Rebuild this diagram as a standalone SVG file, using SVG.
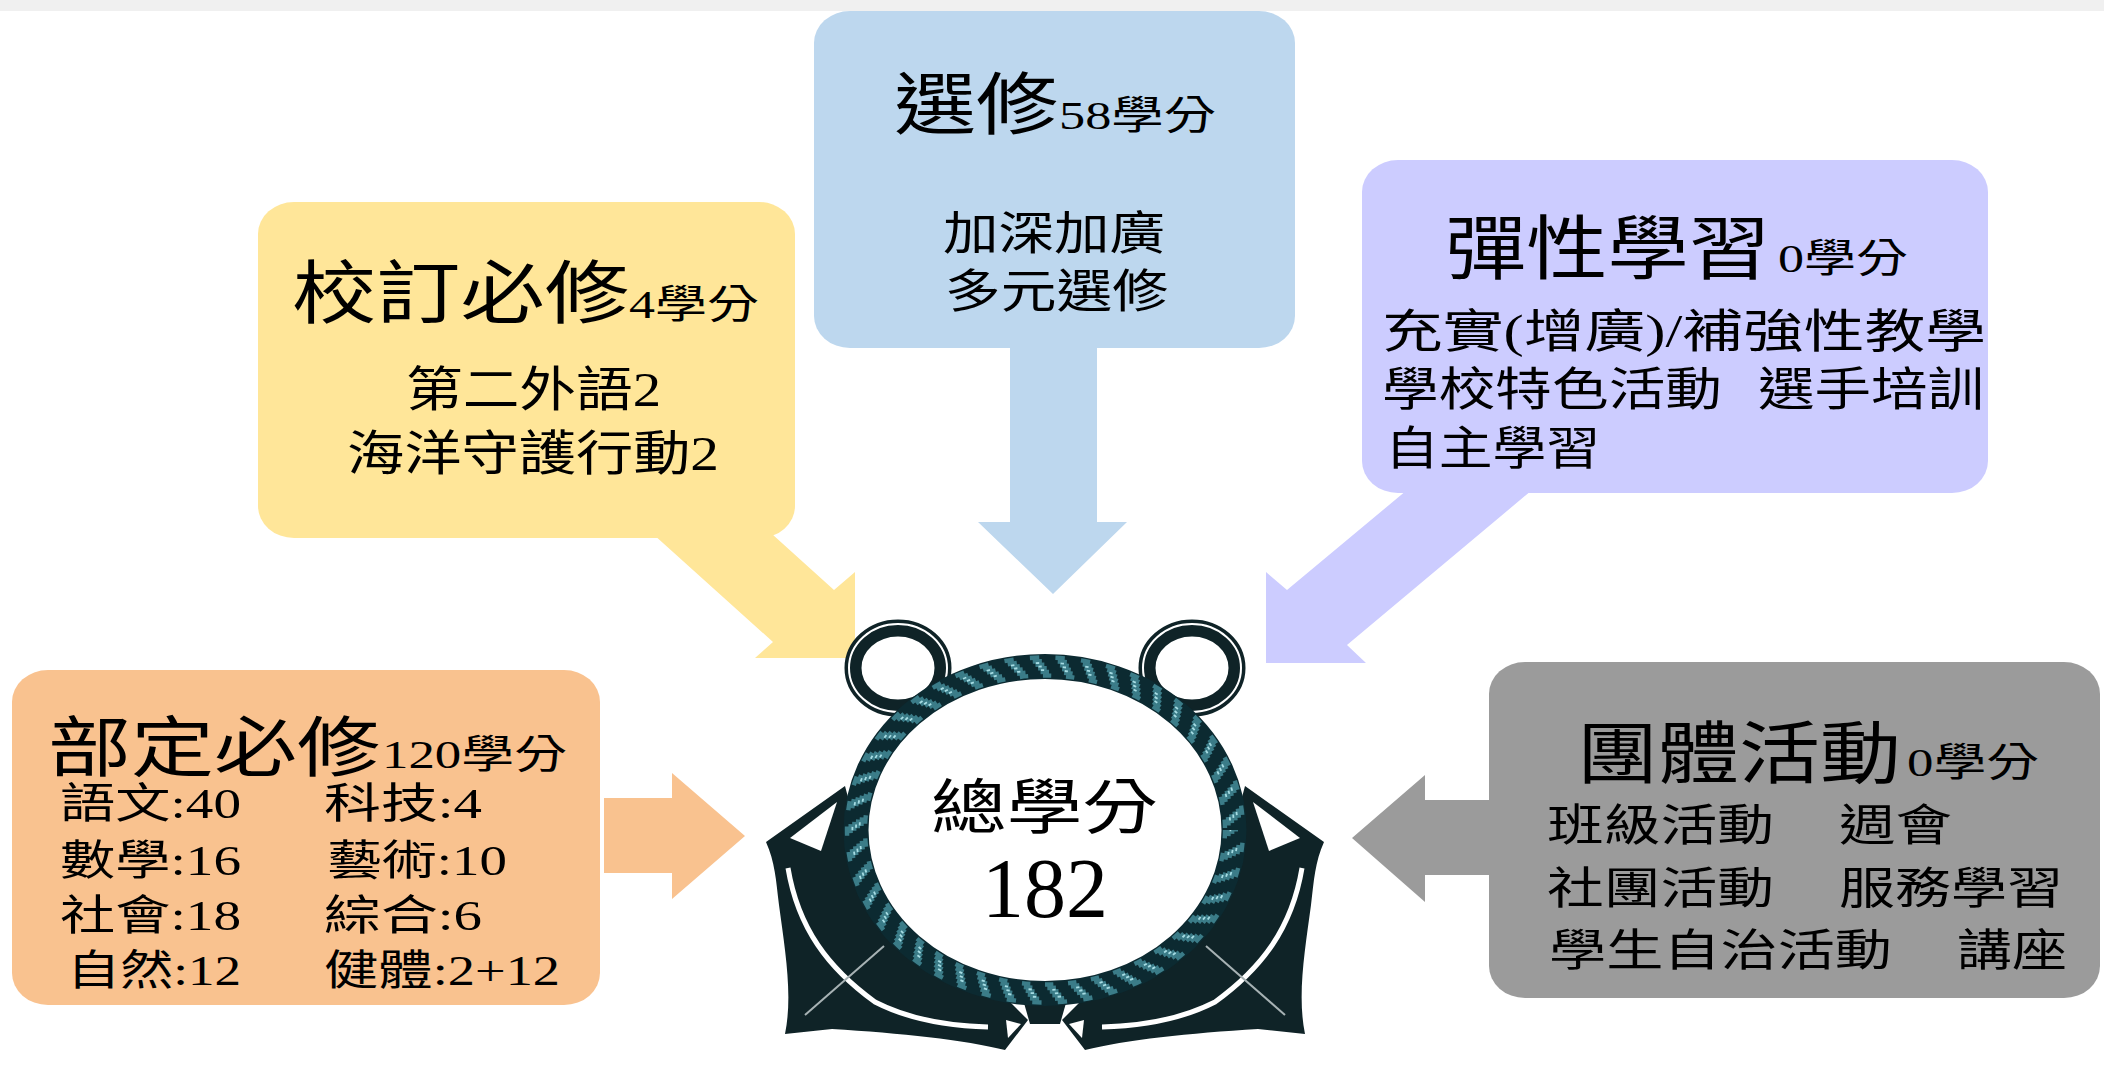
<svg xmlns="http://www.w3.org/2000/svg" xmlns:xlink="http://www.w3.org/1999/xlink" width="2104" height="1083" viewBox="0 0 2104 1083">
<style>
.t{font-family:'Liberation Serif','Noto Sans CJK TC',serif;fill:#000;font-weight:400}
.big{font-size:68px}
.sm{font-size:40px}
.ln{font-size:46px}
.lo{font-size:42px}
.o{fill:#F9C28F}
.y{fill:#FFE699}
.b{fill:#BDD7EE}
.p{fill:#CCCCFF}
.g{fill:#9B9B9B}
.dk{fill:#0F2327}
.wh{fill:#FFFFFF}
.st{fill:none;stroke:#3B7C88;stroke-width:4.4;stroke-dasharray:8 14}
.hl{fill:none;stroke:#A6DCE3;stroke-width:1.8;stroke-dasharray:3 19}
</style>
<rect x="0" y="0" width="2104" height="1083" fill="#FFFFFF"/>
<rect x="0" y="0" width="2104" height="11" fill="#F0F0F0"/>

<g id="connectors">
  <polygon class="o" points="604,798 672,798 672,773 745,836 672,899 672,873 604,873"/>
  <polygon class="y" points="643,525 773,642 755,658 855,658 855,572 834,590 762,525"/>
  <polygon class="b" points="1010,340 1097,340 1097,522 1127,522 1053,594 978,522 1010,522"/>
  <polygon class="p" points="1419,480 1287,590 1266,572 1266,663 1366,663 1347,645 1544,480"/>
  <polygon class="g" points="1495,800 1425,800 1425,775 1352,838 1425,902 1425,875 1495,875"/>
</g>

<g id="node-bu-ding">
  <rect class="o" x="12" y="670" width="588" height="335" rx="36" ry="32"/>
  <text class="t" x="48" y="771" font-size="66" textLength="332" lengthAdjust="spacingAndGlyphs">部定必修</text>
  <text class="t sm" x="382" y="768" textLength="185" lengthAdjust="spacingAndGlyphs">120學分</text>
  <text class="t lo" x="60" y="818" textLength="181" lengthAdjust="spacingAndGlyphs">語文:40</text>
  <text class="t lo" x="324" y="818" textLength="158" lengthAdjust="spacingAndGlyphs">科技:4</text>
  <text class="t lo" x="60" y="875" textLength="181" lengthAdjust="spacingAndGlyphs">數學:16</text>
  <text class="t lo" x="327" y="875" textLength="180" lengthAdjust="spacingAndGlyphs">藝術:10</text>
  <text class="t lo" x="60" y="930" textLength="181" lengthAdjust="spacingAndGlyphs">社會:18</text>
  <text class="t lo" x="324" y="930" textLength="158" lengthAdjust="spacingAndGlyphs">綜合:6</text>
  <text class="t lo" x="67" y="985" textLength="174" lengthAdjust="spacingAndGlyphs">自然:12</text>
  <text class="t lo" x="324" y="985" textLength="236" lengthAdjust="spacingAndGlyphs">健體:2+12</text>
</g>

<g id="node-xiao-ding">
  <rect class="y" x="258" y="202" width="537" height="336" rx="36" ry="32"/>
  <text class="t" x="292" y="318" font-size="69" textLength="337" lengthAdjust="spacingAndGlyphs">校訂必修</text>
  <text class="t sm" x="629" y="318" textLength="130" lengthAdjust="spacingAndGlyphs">4學分</text>
  <text class="t" x="406" y="406" font-size="48" textLength="255" lengthAdjust="spacingAndGlyphs">第二外語2</text>
  <text class="t" x="347" y="470" font-size="48" textLength="372" lengthAdjust="spacingAndGlyphs">海洋守護行動2</text>
</g>

<g id="node-xuan-xiu">
  <rect class="b" x="814" y="11" width="481" height="337" rx="36" ry="32"/>
  <text class="t big" x="894" y="129" textLength="164" lengthAdjust="spacingAndGlyphs">選修</text>
  <text class="t sm" x="1059" y="129" textLength="157" lengthAdjust="spacingAndGlyphs">58學分</text>
  <text class="t ln" x="943" y="249" textLength="222" lengthAdjust="spacingAndGlyphs">加深加廣</text>
  <text class="t ln" x="945" y="307" textLength="223" lengthAdjust="spacingAndGlyphs">多元選修</text>
</g>

<g id="node-tan-xing">
  <rect class="p" x="1362" y="160" width="626" height="333" rx="36" ry="32"/>
  <text class="t" x="1445" y="274" font-size="70" textLength="325" lengthAdjust="spacingAndGlyphs">彈性學習</text>
  <text class="t sm" x="1778" y="272" textLength="130" lengthAdjust="spacingAndGlyphs">0學分</text>
  <text class="t ln" x="1382" y="347" textLength="604" lengthAdjust="spacingAndGlyphs">充實(增廣)/補強性教學</text>
  <text class="t ln" x="1382" y="405" textLength="340" lengthAdjust="spacingAndGlyphs">學校特色活動</text>
  <text class="t ln" x="1758" y="405" textLength="226" lengthAdjust="spacingAndGlyphs">選手培訓</text>
  <text class="t ln" x="1385" y="464" textLength="215" lengthAdjust="spacingAndGlyphs">自主學習</text>
</g>

<g id="node-tuan-ti">
  <rect class="g" x="1489" y="662" width="611" height="336" rx="36" ry="32"/>
  <text class="t big" x="1577" y="778" textLength="324" lengthAdjust="spacingAndGlyphs">團體活動</text>
  <text class="t sm" x="1907" y="776" textLength="132" lengthAdjust="spacingAndGlyphs">0學分</text>
  <text class="t" x="1547" y="841" font-size="44" textLength="227" lengthAdjust="spacingAndGlyphs">班級活動</text>
  <text class="t" x="1839" y="841" font-size="44" textLength="113" lengthAdjust="spacingAndGlyphs">週會</text>
  <text class="t" x="1547" y="904" font-size="44" textLength="227" lengthAdjust="spacingAndGlyphs">社團活動</text>
  <text class="t" x="1839" y="904" font-size="44" textLength="224" lengthAdjust="spacingAndGlyphs">服務學習</text>
  <text class="t" x="1549" y="966" font-size="44" textLength="343" lengthAdjust="spacingAndGlyphs">學生自治活動</text>
  <text class="t" x="1957" y="966" font-size="44" textLength="110" lengthAdjust="spacingAndGlyphs">講座</text>
</g>

<defs>
  <g id="anchor-half">
    <path class="dk" d="M766,842 L845,786 L862,850 L900,905 L1000,992 L1028,1020 L1005,1050 C965,1040 900,1033 832,1029 L785,1034 C793,995 785,950 779,905 C776,880 775,862 766,842 Z"/>
    <polygon class="wh" points="790,838 837,802 821,851"/>
    <path d="M788,868 C798,928 828,968 875,1002 C910,1020 950,1026 988,1027" fill="none" stroke="#FFFFFF" stroke-width="5"/>
    <line x1="805" y1="1015" x2="884" y2="946" stroke="#A7B2B4" stroke-width="2"/>
    <polygon class="wh" points="1006,1020 1021,1024 1008,1038"/>
    <ellipse cx="898" cy="668" rx="45" ry="40" fill="none" stroke="#0F2327" stroke-width="17"/>
    <ellipse cx="898" cy="668" rx="49" ry="44" fill="none" stroke="#FFFFFF" stroke-width="2"/>
  </g>
</defs>

<g id="node-total">
  <use xlink:href="#anchor-half"/>
  <use xlink:href="#anchor-half" transform="translate(2090,0) scale(-1,1)"/>
  <polygon class="dk" points="1022,996 1068,996 1060,1024 1030,1024"/>
  <ellipse cx="1045" cy="830" rx="178" ry="152" fill="#FFFFFF"/>
  <g id="rope">
    <ellipse cx="1045" cy="830" rx="189" ry="163.5" fill="none" stroke="#0C2A31" stroke-width="25"/>
    <ellipse class="st" cx="1045" cy="830" rx="180" ry="154.5" pathLength="1000" stroke-dashoffset="0"/>
    <ellipse class="st" cx="1045" cy="830" rx="183.6" ry="158.1" pathLength="1000" stroke-dashoffset="2.2"/>
    <ellipse class="st" cx="1045" cy="830" rx="187.2" ry="161.7" pathLength="1000" stroke-dashoffset="4.4"/>
    <ellipse class="st" cx="1045" cy="830" rx="190.8" ry="165.3" pathLength="1000" stroke-dashoffset="6.6"/>
    <ellipse class="st" cx="1045" cy="830" rx="194.4" ry="168.9" pathLength="1000" stroke-dashoffset="8.8"/>
    <ellipse class="st" cx="1045" cy="830" rx="198" ry="172.5" pathLength="1000" stroke-dashoffset="11"/>
    <ellipse class="hl" cx="1045" cy="830" rx="185.4" ry="159.9" pathLength="1000" stroke-dashoffset="1.8"/>
    <ellipse class="hl" cx="1045" cy="830" rx="189" ry="163.5" pathLength="1000" stroke-dashoffset="4"/>
    <ellipse class="hl" cx="1045" cy="830" rx="192.6" ry="167.1" pathLength="1000" stroke-dashoffset="6.2"/>
  </g>
  <text class="t" x="931" y="829" font-size="60" textLength="227" lengthAdjust="spacingAndGlyphs">總學分</text>
  <text class="t" x="1045" y="917" font-size="84" text-anchor="middle">182</text>
</g>
</svg>
